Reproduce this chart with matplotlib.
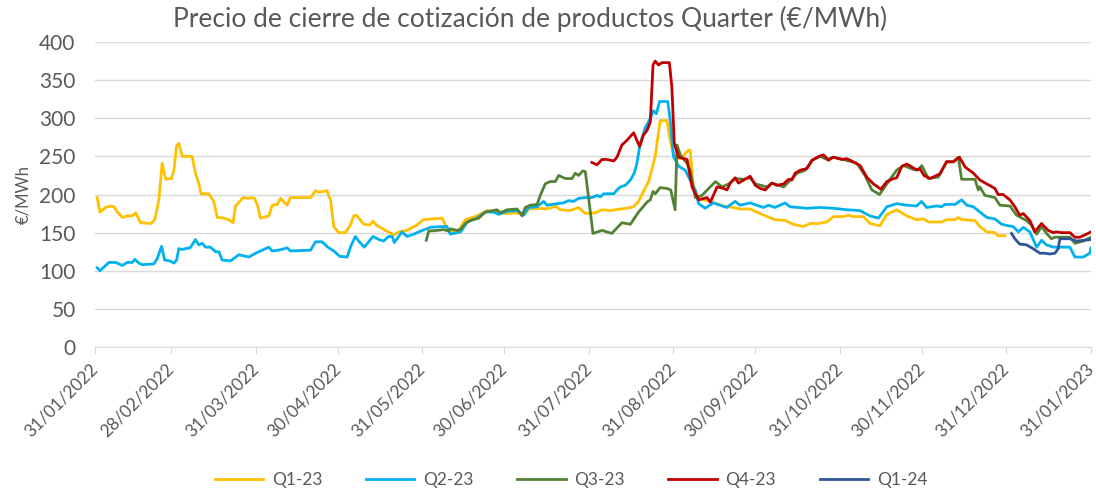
import numpy as np
import pandas as pd
import matplotlib
matplotlib.use("Agg")
import matplotlib.pyplot as plt

# dias desde 31/01/2022 y precio de cierre (EUR/MWh)
inicio = pd.Timestamp("2022-01-31")

q1_23_dias = [0.8, 1.8, 3.9, 5.7, 6.9, 8.2, 10, 11.8, 13.7, 14.9, 16.7, 20.4, 21.9, 23.4, 24.6, 25.9, 28, 28.9,
              29.9, 30.7, 32, 35.6, 36.8, 38, 38.9, 41.7, 43.5, 44.8, 47.2, 49, 50.6, 51.5, 53, 54.3, 56.4, 57.6,
              58.5, 59.7, 60.6, 63.7, 64.9, 66.8, 68, 70.4, 71.6, 79, 80.8, 82, 85, 86.3, 87.5, 89.3, 91.8, 93.6,
              94.8, 95.8, 98.5, 100.7, 101.9, 103.1, 106.4, 109.5, 111.3, 114.4, 116.8, 118, 120.4, 123.5, 127.2,
              129, 130.2, 133.3, 135.7, 140, 143.7, 151, 154.7, 157.1, 158.9, 163.8, 164.4, 166.8, 168.7, 170.5,
              174.2, 177.2, 179.7, 183.3, 185.8, 188.8, 192.5, 194.9, 197.4, 199.2, 201, 202.9, 205.3, 207.1,
              209.6, 210.8, 212, 214.5, 217.5, 218.1, 219.3, 221.2, 225.4, 230.3, 234, 236.4, 240.1, 244.4, 249.2,
              252.9, 255.9, 259.6, 262.1, 265.1, 268.2, 270.6, 274.3, 276.1, 277.9, 281.6, 284, 287.7, 290.2,
              293.8, 297.5, 301.1, 303.6, 305.4, 310.3, 312.1, 315.2, 316.4, 317.6, 322.5, 324.3, 326.8, 329.8,
              331, 333.5]
q1_23 = [196, 177, 183, 185, 184, 177, 170, 172, 172, 176, 163, 162, 167, 193, 241, 220, 221, 232,
         264, 267, 250, 250, 228, 215, 201, 201, 191, 170, 169, 167, 163, 185, 191, 196, 195, 196,
         195, 184, 169, 172, 186, 187, 195, 186, 196, 196, 205, 203, 205, 193, 158, 150, 150, 160,
         172, 173, 161, 160, 165, 160, 153, 147, 151, 153, 158, 160, 167, 168, 169,
         156, 151, 153, 167, 172, 179, 175, 176, 173, 181, 182, 181, 182, 185, 180,
         179, 183, 175, 176, 180, 179, 181, 182, 184, 191, 204, 217, 250, 297,
         297, 271, 252, 247, 258, 258, 210, 195, 191, 185, 183, 181, 181, 174, 167,
         166, 161, 158, 162, 162, 164, 171, 171, 173, 171, 171, 162, 159, 174,
         180, 172, 167, 168, 164, 164, 167, 167, 170, 167, 166, 158, 151, 150,
         146, 146]

q2_23_dias = [0.8, 1.8, 3.3, 5.1, 7.5, 10, 11.8, 13.7, 14.6, 16.1, 17.3, 21.6, 22.8, 24.4, 25.5, 27.4, 28.9, 29.9,
              30.7, 32, 33.2, 34.8, 35.6, 36.8, 38, 39.3, 40.5, 42.3, 44.2, 45.4, 46.6, 49.7, 52.7, 56.4, 58.8,
              61.3, 63.7, 64.9, 67.3, 70.4, 71.6, 79, 80.8, 83.2, 85.3, 87.5, 89.7, 92.4, 93.6, 95.4, 96.6, 98.7,
              101.9, 104, 105.8, 107.6, 108.9, 109.7, 112.5, 114.4, 116.8, 119.3, 123, 126.7, 129, 130.2, 134,
              136.4, 140, 143, 146, 148, 151, 154.7, 157.1, 158.9, 162, 164.4, 165.6, 169.3, 171.7, 173.5, 175.4,
              177.2, 179.7, 182.1, 184, 185.2, 186.4, 190.1, 191.3, 192.5, 194.3, 196.2, 197.6, 198.6, 199.8,
              201.6, 203.5, 204.7, 205.7, 206.9, 209.9, 210.8, 212, 213.9, 216.3, 218.1, 220, 221.2, 223.6,
              226.6, 229.1, 231.5, 234.6, 236.4, 240.1, 245, 246.8, 249.2, 252.9, 254.7, 260.8, 265.7, 270.6,
              275.5, 280.3, 284, 287.1, 290.2, 293.8, 297.5, 301.1, 302.9, 304.8, 308.4, 310.3, 311.5, 315.2,
              317.6, 319.5, 321.9, 324.3, 326.8, 329.8, 332.3, 334.7, 336.5, 338.4, 340.2, 342.6, 345.1, 346.9,
              348.7, 351.2, 353.6, 357.3, 359.1, 362.2, 364.6, 365]
q2_23 = [104, 100, 105, 111, 111, 107, 111, 111, 115, 110, 108, 109, 116, 132, 114, 113, 110, 114,
         129, 128, 129, 130, 134, 141, 134, 136, 131, 131, 125, 125, 114, 113, 121, 118, 123,
         127, 131, 126, 127, 130, 126, 127, 138, 138, 131, 126, 119, 118, 131, 145, 139, 131,
         145, 141, 139, 145, 145, 137, 151, 145, 148, 152, 157, 158, 158, 148, 151,
         164, 169, 177, 177, 174, 178, 179, 173, 183, 184, 191, 186, 188, 189, 192, 191,
         195, 196, 196, 199, 197, 201, 201, 206, 210, 212, 219, 228, 241, 267,
         287, 300, 310, 306, 322, 322, 298, 250, 237, 232, 219, 206, 188, 182,
         189, 186, 183, 191, 186, 189, 183, 186, 183, 189, 184, 182, 183, 182,
         180, 179, 172, 169, 184, 188, 186, 185, 191, 183, 185, 184, 187, 187,
         193, 186, 184, 177, 170, 168, 161, 159, 158, 151, 157, 151, 131, 140,
         134, 131, 131, 131, 118, 118, 123, 130]

q3_23_dias = [121.4, 122.3, 125.4, 127.8, 129.6, 130.2, 132.7, 133.9, 135.7, 137.6, 140.6, 143, 147.3, 148.5, 151,
              154.7, 156.5, 157.7, 159.5, 162, 163.2, 165, 166.8, 168.7, 169.9, 171.1, 172.4, 174.8, 176, 177.2,
              178.8, 179.7, 182.5, 185.8, 189.4, 193.1, 196.2, 199.2, 202.3, 203.5, 204.5, 205.3, 207.1, 209.6,
              211, 212.6, 213.3, 214.5, 216.9, 218.1, 220, 222.5, 224.9, 227.4, 229.8, 232.3, 234.6, 237.7, 240.1,
              242, 246.2, 248.1, 252.4, 254.8, 257.3, 260.3, 262.8, 265.8, 268.3, 270.6, 274.3, 279.2, 282.2,
              284.7, 287.5, 290.2, 293.8, 296.3, 299.9, 301.8, 303, 305.4, 309.1, 312.1, 314.6, 316.4, 317.6,
              322.5, 323.7, 324.3, 326.1, 329.8, 331.6, 335.3, 337.7, 341.3, 343.2, 345.1, 346.9, 348.7, 350.5,
              351.8, 354.2, 357.3, 359.1, 362.2, 365]
q3_23 = [140, 152, 153, 154, 152, 155, 153, 154, 162, 166, 169, 177, 180, 176, 180,
         181, 172, 183, 186, 187, 199, 214, 217, 217, 225, 223, 221, 221, 228, 225,
         231, 230, 149, 153, 149, 163, 161, 177, 190, 193, 204, 201, 209, 208,
         206, 180, 265, 252, 241, 232, 196, 199, 208, 217, 210, 214, 221, 220, 222,
         214, 210, 215, 210, 219, 228, 232, 245, 250, 246, 249, 246, 241, 225,
         206, 200, 214, 232, 238, 233, 233, 238, 221, 223, 243, 243, 249, 220,
         220, 206, 210, 199, 196, 186, 185, 173, 166, 160, 148, 158, 149, 142,
         144, 144, 144, 136, 139, 144]

q4_23_dias = [182.1, 184, 185.8, 187.6, 190.1, 191.3, 193.1, 194.9, 197.4, 198.6, 199.6, 201, 202.3, 203.5, 204.5,
              205.3, 206.5, 207.8, 210.5, 211.4, 212.3, 213.9, 217, 218.8, 221.2, 224.3, 225.5, 228, 230.4, 231.6,
              232.8, 234.6, 235.8, 240.1, 242, 243.8, 245.6, 248.1, 249.9, 252.4, 254.2, 255.4, 256.6, 258.5,
              260.9, 262.8, 265.2, 267, 268.8, 270.6, 273.7, 275.5, 277.9, 280.4, 282.8, 285.3, 288, 290.2, 292,
              293.8, 295.7, 297.5, 299.9, 301.1, 302.3, 303.8, 306, 309.6, 312.1, 314.6, 316.8, 318.9, 321.9,
              324.3, 326.8, 329.8, 331, 332.8, 335.3, 337.1, 338.9, 340.2, 342.6, 344.4, 346.9, 349.3, 351.2,
              352.4, 354.2, 357.3, 359.1, 360.9, 363.4, 365]
q4_23 = [242, 239, 246, 246, 244, 249, 265, 271, 281, 271, 263, 278, 284, 295, 370,
         375, 370, 373, 373, 341, 267, 249, 246, 210, 193, 196, 190, 210, 208, 206,
         215, 222, 215, 224, 212, 208, 206, 215, 212, 214, 220, 219, 228, 232,
         234, 245, 250, 252, 245, 249, 246, 247, 243, 238, 223, 214, 207, 217, 220,
         222, 237, 240, 235, 232, 234, 225, 221, 227, 243, 243, 249, 236, 228,
         219, 214, 208, 200, 200, 193, 184, 173, 175, 166, 151, 162, 153, 150,
         151, 150, 150, 144, 144, 148, 151]

q1_24_dias = [335.9, 337.1, 338.9, 341.4, 343.8, 346.3, 348.1, 349.9, 351.8, 353, 353.6, 357.3, 359.7, 362.7, 365]
q1_24 = [149, 142, 135, 134, 129, 123, 123, 122, 123, 129, 142, 142, 139, 140, 141]

series = [("Q1-23", q1_23_dias, q1_23, "#FFC000"),
          ("Q2-23", q2_23_dias, q2_23, "#00B0F0"),
          ("Q3-23", q3_23_dias, q3_23, "#548235"),
          ("Q4-23", q4_23_dias, q4_23, "#C00000"),
          ("Q1-24", q1_24_dias, q1_24, "#2F5597")]

fechas_ticks = ["2022-01-31", "2022-02-28", "2022-03-31", "2022-04-30", "2022-05-31", "2022-06-30",
                "2022-07-31", "2022-08-31", "2022-09-30", "2022-10-31", "2022-11-30", "2022-12-31",
                "2023-01-31"]

gris = "#595959"
plt.rcParams["font.family"] = ["Lato", "DejaVu Sans"]

fig = plt.figure(figsize=(10.96, 4.95), dpi=100)
ax = fig.add_axes([0.0867, 0.299, 0.9087, 0.616])

for nombre, dias, valores, color in series:
    x = inicio + pd.to_timedelta(np.array(dias), unit="D")
    ax.plot(x, valores, color=color, lw=2.0, label=nombre, solid_joinstyle="round")

ticks = pd.to_datetime(fechas_ticks)
ax.set_xlim(ticks[0], ticks[-1])
ax.set_xticks(ticks)
ax.set_xticklabels([t.strftime("%d/%m/%Y") for t in ticks], rotation=45, ha="right", va="center",
                   rotation_mode="anchor", fontsize=12.5, color=gris)

ax.set_ylim(0, 400)
ax.set_yticks(np.arange(0, 401, 50))
ax.tick_params(axis="y", length=0, labelsize=15, labelcolor=gris, pad=14)
ax.tick_params(axis="x", length=5, color="#D9D9D9", pad=9)
ax.grid(axis="y", color="#D9D9D9", lw=1)
ax.set_axisbelow(True)
for s in ["left", "right", "top"]:
    ax.spines[s].set_visible(False)
ax.spines["bottom"].set_color("#D9D9D9")

ax.set_ylabel("€/MWh", fontsize=12, color=gris, labelpad=6)
fig.text(0.484, 0.962, "Precio de cierre de cotización de productos Quarter (€/MWh)",
         ha="center", va="center", fontsize=19, color=gris)

fig.legend(loc="center", bbox_to_anchor=(0.521, 0.03), ncol=5, frameon=False, fontsize=12.5,
           handlelength=2.8, handletextpad=0.5, columnspacing=2.5, labelcolor=gris)

fig.savefig("out.png", dpi=100)
